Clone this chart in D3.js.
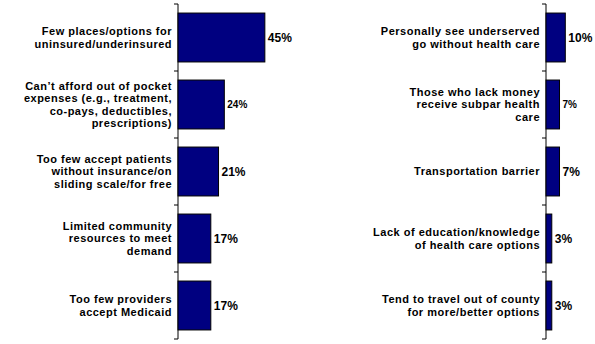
<!DOCTYPE html>
<html>
<head>
<meta charset="utf-8">
<script src="https://cdn.jsdelivr.net/npm/d3@7"></script>
<style>
  body { margin: 0; background: #fff; }
  text { font-family: "Liberation Sans", Arial, sans-serif; font-weight: bold; fill: #000; }
</style>
</head>
<body>
<div id="chart"></div>
<script>
// left panel data
const leftLabels = [
  ["Few places/options for", "uninsured/underinsured"],
  ["Can\u2019t afford out of pocket", "expenses (e.g., treatment,", "co-pays, deductibles,", "prescriptions)"],
  ["Too few accept patients", "without insurance/on", "sliding scale/for free"],
  ["Limited community", "resources to meet", "demand"],
  ["Too few providers", "accept Medicaid"]
];
const leftValues = [45, 24, 21, 17, 17];

// right panel data
const rightLabels = [
  ["Personally see underserved", "go without health care"],
  ["Those who lack money", "receive subpar health", "care"],
  ["Transportation barrier"],
  ["Lack of education/knowledge", "of health care options"],
  ["Tend to travel out of county", "for more/better options"]
];
const rightValues = [10, 7, 7, 3, 3];

const width = 595, height = 344;

const svg = d3.select("#chart").append("svg")
  .attr("width", width)
  .attr("height", height);

// shared value scale, same for both panels
const x = d3.scaleLinear().domain([0, 50]).range([0, 96.5]);

function panel(axisX, labels, values, smallIdx) {
  const g = svg.append("g").attr("transform", `translate(${axisX},0)`);

  const y = d3.scaleBand()
    .domain(d3.range(values.length))
    .range([4, 339])
    .paddingInner(0.27)
    .paddingOuter(0.135);

  // axis line and ticks at band edges
  g.append("line")
    .attr("x1", 0).attr("x2", 0)
    .attr("y1", 4).attr("y2", 339)
    .attr("stroke", "#000").attr("stroke-width", 1);

  const edges = d3.range(values.length + 1).map(i => 4 + i * y.step());
  g.selectAll(".tick")
    .data(edges)
    .join("line")
      .attr("class", "tick")
      .attr("x1", -4).attr("x2", 0)
      .attr("y1", d => d).attr("y2", d => d)
      .attr("stroke", "#000");

  // bars
  g.selectAll(".bar")
    .data(values)
    .join("rect")
      .attr("class", "bar")
      .attr("x", 0)
      .attr("y", (d, i) => y(i))
      .attr("width", d => x(d))
      .attr("height", y.bandwidth())
      .attr("fill", "#000080")
      .attr("stroke", "#000")
      .attr("stroke-width", 1);

  // value labels
  g.selectAll(".val")
    .data(values)
    .join("text")
      .attr("class", "val")
      .attr("x", d => x(d) + 3)
      .attr("y", (d, i) => y(i) + y.bandwidth() / 2)
      .attr("dy", "0.35em")
      .style("font-size", (d, i) => smallIdx.includes(i) ? "10px" : "12px")
      .text(d => d + "%");

  // category labels, one text per line so the leading stays tight
  const lh = 12.4;
  labels.forEach((lines, i) => {
    const cy = y(i) + y.bandwidth() / 2;
    lines.forEach((ln, j) => {
      g.append("text")
        .attr("text-anchor", "end")
        .attr("x", -6)
        .attr("y", cy + (j - (lines.length - 1) / 2) * lh)
        .attr("dy", "0.35em")
        .style("font-size", "11px")
        .style("letter-spacing", "0.5px")
        .text(ln);
    });
  });
}

panel(178, leftLabels, leftValues, [1]);
panel(546, rightLabels, rightValues, [1]);
</script>
</body>
</html>
